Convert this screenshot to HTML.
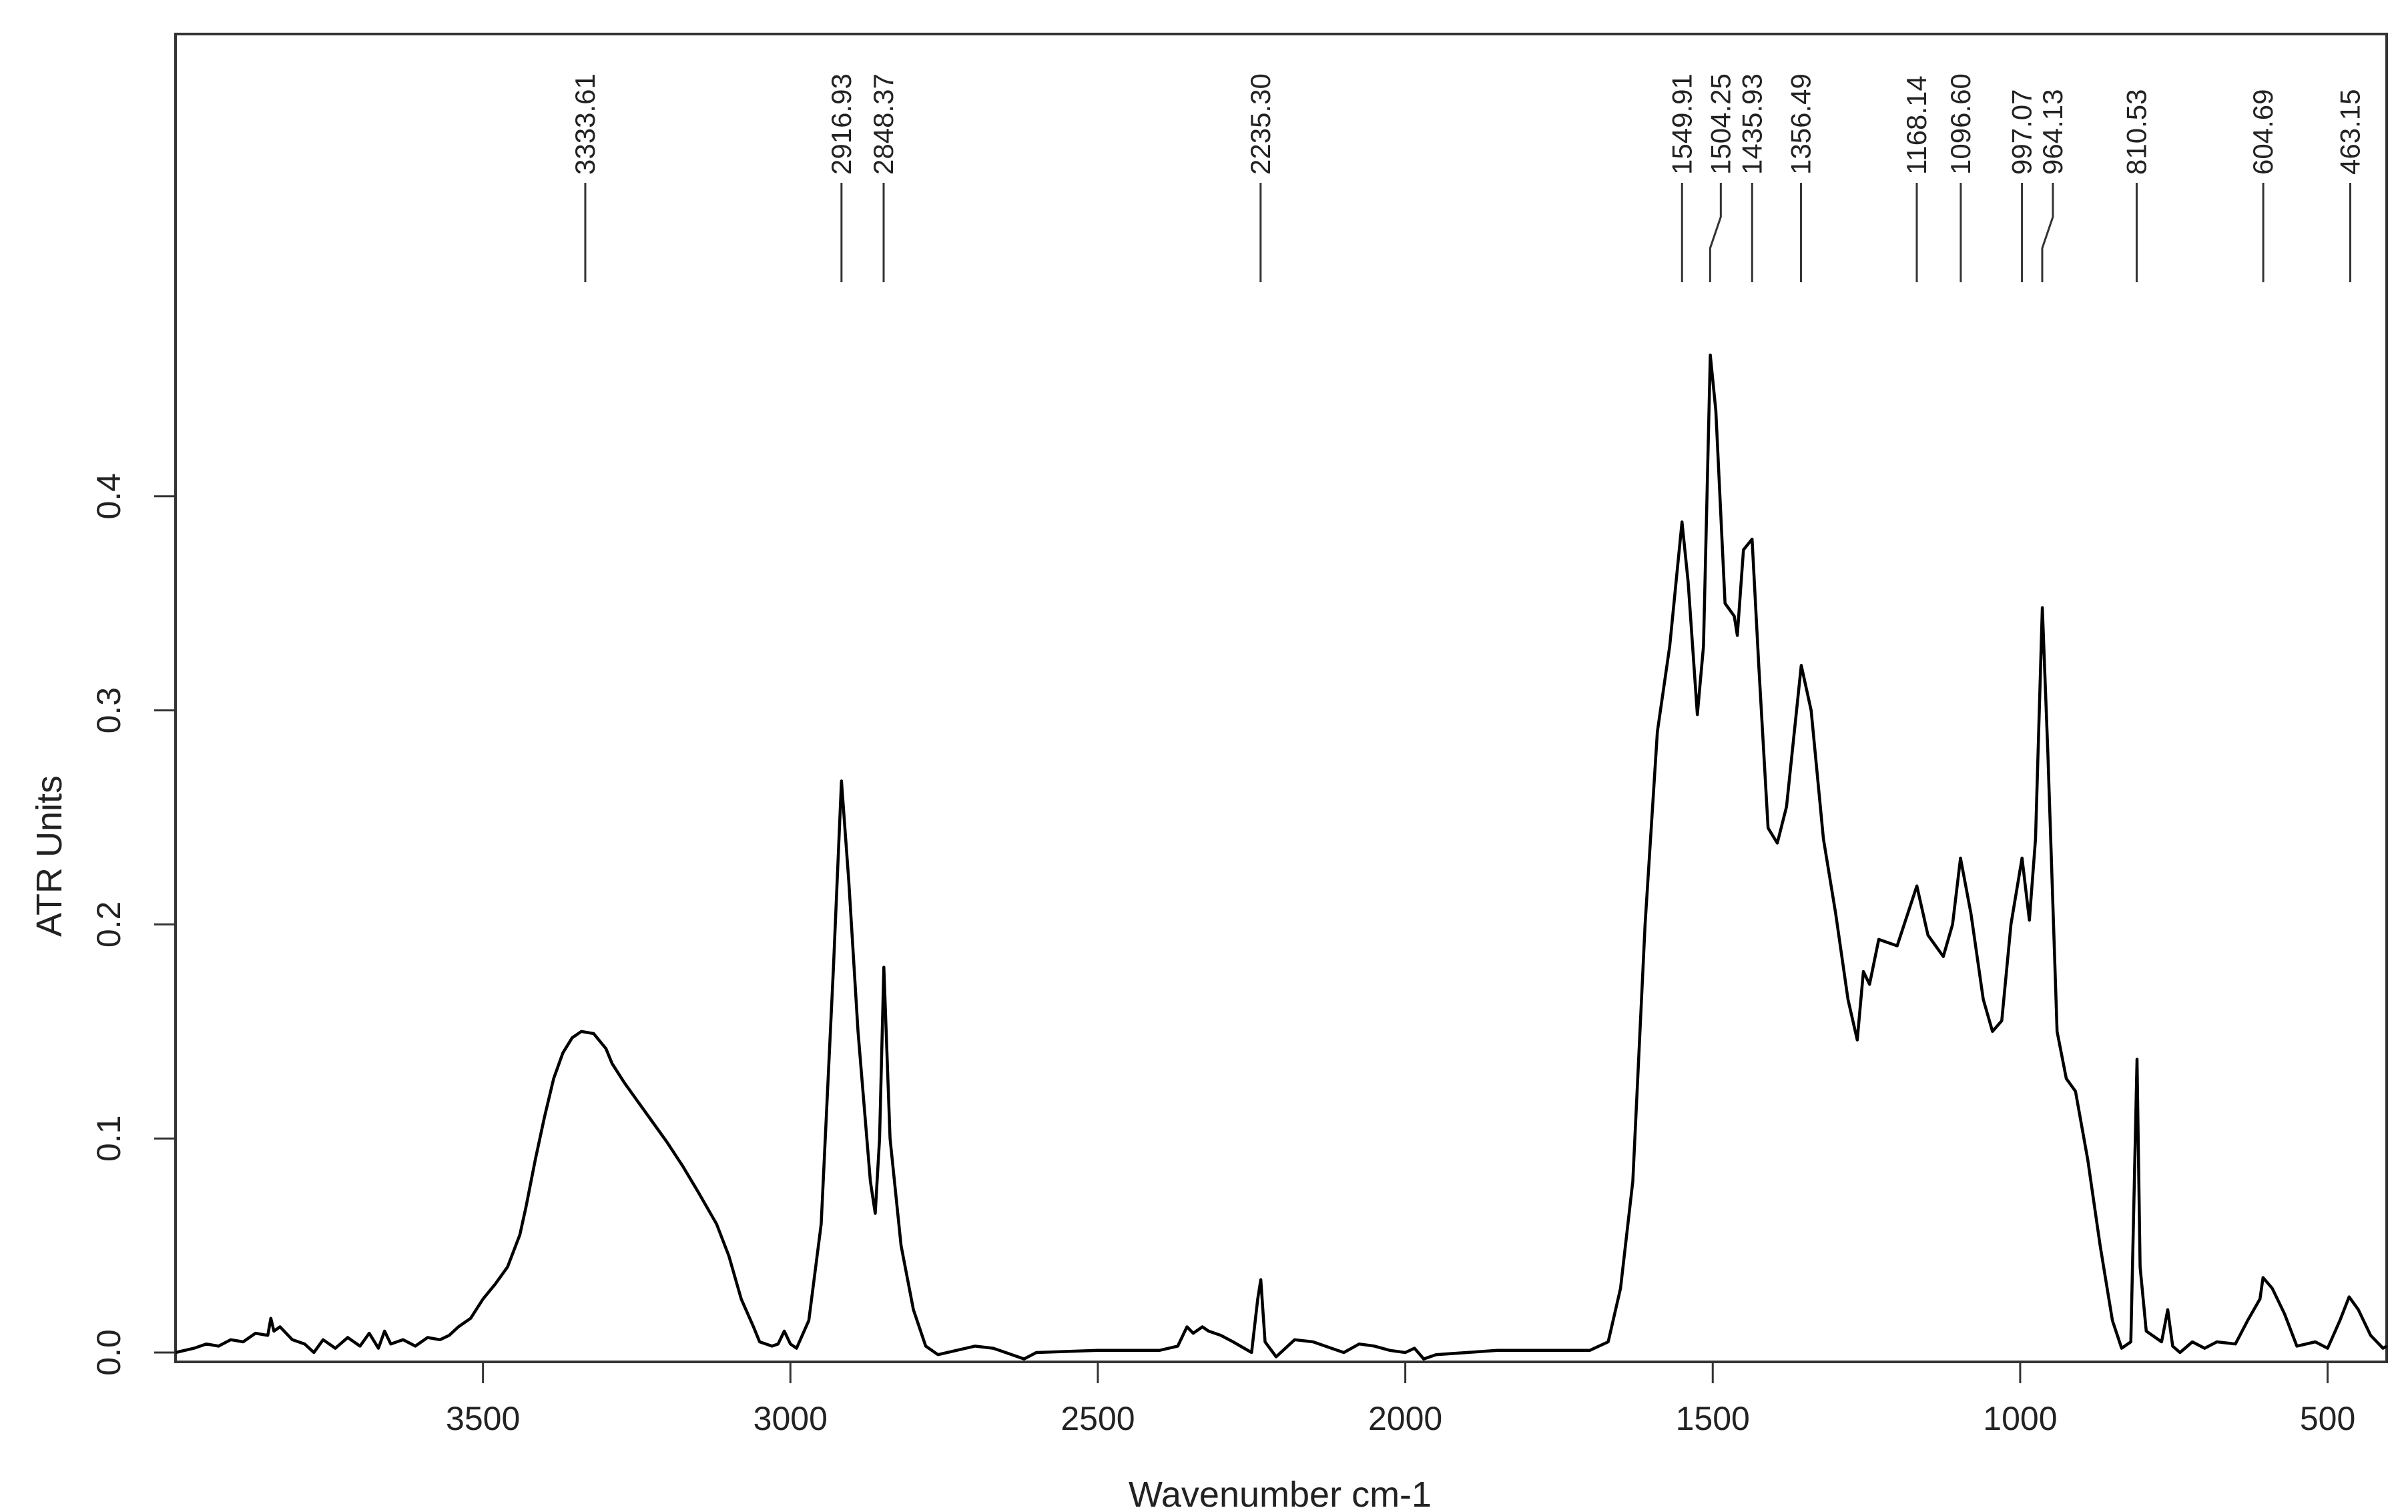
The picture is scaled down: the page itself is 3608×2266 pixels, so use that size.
<!DOCTYPE html>
<html><head><meta charset="utf-8"><style>
html,body{margin:0;padding:0;background:#fff;}
svg{display:block;font-family:"Liberation Sans",sans-serif;}
</style></head><body>
<svg id="chart" width="3608" height="2266" viewBox="0 0 3608 2266" xmlns="http://www.w3.org/2000/svg">
<rect x="0" y="0" width="3608" height="2266" fill="#fff"/>
<g id="plot"></g>
</svg>
<script>
const wavenumbers = [4000,3970,3950,3930,3910,3890,3870,3850,3845,3840,3830,3810,3790,3775,3760,3740,3720,3700,3685,3670,3660,3650,3630,3610,3590,3570,3555,3540,3520,3500,3480,3460,3440,3430,3415,3400,3385,3370,3355,3340,3320,3300,3290,3270,3250,3225,3200,3175,3150,3120,3100,3080,3060,3050,3030,3020,3010,3000,2990,2970,2950,2930,2917,2905,2890,2870,2862,2855,2848,2838,2820,2800,2780,2760,2730,2700,2670,2650,2620,2600,2500,2400,2370,2355,2345,2330,2320,2300,2280,2250,2240,2235,2228,2210,2180,2150,2120,2100,2075,2050,2025,2000,1985,1970,1950,1900,1850,1800,1750,1700,1670,1650,1630,1610,1590,1570,1550,1540,1525,1515,1504,1495,1480,1465,1460,1450,1436,1425,1410,1395,1380,1356,1340,1320,1300,1280,1265,1255,1245,1230,1200,1168,1150,1125,1110,1097,1080,1060,1045,1030,1015,997,985,975,964,955,940,925,910,890,870,850,835,820,810,805,795,770,760,752,740,720,700,680,650,630,610,605,590,570,550,520,500,480,465,450,430,410,404];
const absorbance = [0.000,0.002,0.004,0.003,0.006,0.005,0.009,0.008,0.016,0.010,0.012,0.006,0.004,0.000,0.006,0.002,0.007,0.003,0.009,0.002,0.010,0.004,0.006,0.003,0.007,0.006,0.008,0.012,0.016,0.025,0.032,0.040,0.055,0.068,0.090,0.110,0.128,0.140,0.147,0.150,0.149,0.142,0.135,0.126,0.118,0.108,0.098,0.087,0.075,0.060,0.045,0.025,0.012,0.005,0.003,0.004,0.010,0.004,0.002,0.015,0.060,0.180,0.267,0.220,0.150,0.080,0.065,0.100,0.180,0.100,0.050,0.020,0.003,-0.001,0.001,0.003,0.002,0.000,-0.003,0.000,0.001,0.001,0.003,0.012,0.009,0.012,0.010,0.008,0.005,0.000,0.025,0.034,0.005,-0.002,0.006,0.005,0.002,0.000,0.004,0.003,0.001,0.000,0.002,-0.003,-0.001,0.000,0.001,0.001,0.001,0.001,0.005,0.030,0.080,0.200,0.290,0.330,0.388,0.360,0.298,0.330,0.466,0.440,0.350,0.344,0.335,0.375,0.380,0.320,0.245,0.238,0.255,0.321,0.300,0.240,0.205,0.165,0.146,0.178,0.172,0.193,0.190,0.218,0.195,0.185,0.200,0.231,0.205,0.165,0.150,0.155,0.200,0.231,0.202,0.240,0.348,0.280,0.150,0.128,0.122,0.090,0.050,0.015,0.002,0.005,0.137,0.040,0.010,0.005,0.020,0.003,0.000,0.005,0.002,0.005,0.004,0.015,0.025,0.035,0.030,0.018,0.003,0.005,0.002,0.015,0.026,0.020,0.008,0.002,0.003];
const xTicks = [3500,3000,2500,2000,1500,1000,500];
const yTicks = [0.0,0.1,0.2,0.3,0.4];
const yTickLabels = ["0.0","0.1","0.2","0.3","0.4"];
const peakPositions = [3333.61,2916.93,2848.37,2235.30,1549.91,1504.25,1435.93,1356.49,1168.14,1096.60,997.07,964.13,810.53,604.69,463.15];
const peakLabels = ["3333.61","2916.93","2848.37","2235.30","1549.91","1504.25","1435.93","1356.49","1168.14","1096.60","997.07","964.13","810.53","604.69","463.15"];
const peakLabelShift = [0,0,0,0,0,1,0,0,0,0,0,1,0,0,0];

const NS = "http://www.w3.org/2000/svg";
const L = 263, R = 3576, T = 51, B = 2041;
const X0 = 4000, X1 = 404;
const Y0px = 2027, YperUnit = 3208;
function xs(w){ return L + (X0 - w) * (R - L) / (X0 - X1); }
function ys(v){ return Y0px - v * YperUnit; }
const g = document.getElementById('plot');
function mk(tag, attrs, parent){
  const e = document.createElementNS(NS, tag);
  for (const k in attrs) e.setAttribute(k, attrs[k]);
  (parent || g).appendChild(e);
  return e;
}

// frame
const frame = mk('rect', {x:L, y:T, width:R-L, height:B-T, fill:'none', stroke:'#333', 'stroke-width':4});



// spectrum
let d = '';
wavenumbers.forEach((w,i)=>{ d += (i? 'L':'M') + xs(w).toFixed(1) + ' ' + ys(absorbance[i]).toFixed(1) + ' '; });
const line = mk('path', {d:d, fill:'none', stroke:'#000', 'stroke-width':4.5, 'stroke-linejoin':'round'});



// x ticks
xTicks.forEach((t)=>{
  const x = xs(t);
  const tk = mk('line', {x1:x, x2:x, y1:B, y2:B+32, stroke:'#333', 'stroke-width':3});
  
  
  const tx = mk('text', {x:x, y:2143, 'text-anchor':'middle', 'font-size':50, fill:'#222'});
  tx.textContent = String(t);
  
  
});
// y ticks
yTicks.forEach((t,i)=>{
  const y = ys(t);
  const tk = mk('line', {x1:L-32, x2:L, y1:y, y2:y, stroke:'#333', 'stroke-width':3});
  
  
  const tx = mk('text', {x:0, y:0, 'text-anchor':'middle', 'font-size':50, fill:'#222', transform:`translate(180,${y}) rotate(-90)`});
  tx.textContent = yTickLabels[i];
  
  
});
// axis titles
const xt = mk('text', {x:1918, y:2258, 'text-anchor':'middle', 'font-size':54, fill:'#222'});
xt.textContent = 'Wavenumber cm-1';


const yt = mk('text', {x:0, y:0, 'text-anchor':'middle', 'font-size':54, fill:'#222', transform:'translate(92,1283) rotate(-90)'});
yt.textContent = 'ATR Units';



// peak annotations
peakPositions.forEach((p,i)=>{
  const xb = xs(p);
  const xtop = xb + peakLabelShift[i]*16;
  const ln = mk('polyline', {points:`${xtop},274 ${xtop},325 ${xb},372 ${xb},423`, fill:'none', stroke:'#333', 'stroke-width':3});
  
  
  const tx = mk('text', {x:0, y:0, 'font-size':42, fill:'#222', transform:`translate(${xtop+14},262) rotate(-90)`});
  tx.textContent = peakLabels[i];
  
  
});
</script>
</body></html>
